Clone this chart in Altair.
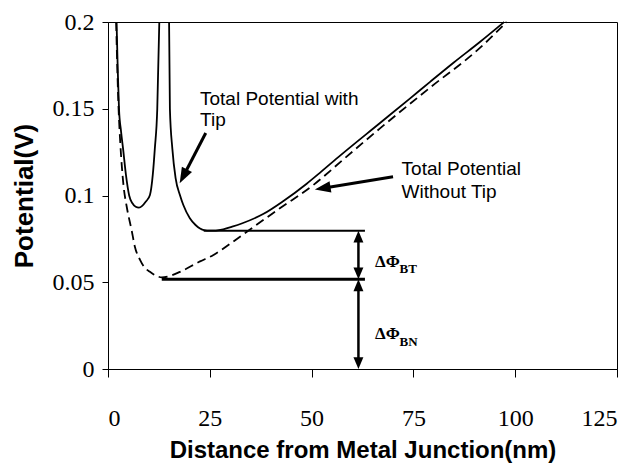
import math
import altair as alt
import pandas as pd

# ---------------- data ----------------
solid_left_x = [2.1, 2.4, 2.7, 3.2, 3.7, 4.4, 5.2, 6.0, 6.8, 7.6, 8.4, 9.3, 10.3, 11.0, 11.5, 12.1, 12.6]
solid_left_y = [0.200, 0.172, 0.150, 0.137, 0.127, 0.112, 0.100, 0.0955, 0.0935, 0.0930, 0.0940, 0.0965, 0.1003, 0.112, 0.127, 0.150, 0.200]

solid_right_x = [15.0, 15.2, 15.8, 16.6, 17.7, 18.5, 20.1, 21.5, 22.6, 23.6, 25.0, 26.5, 28.3, 30.5, 33.0,
                 38.1, 43.0, 48.8, 52.1, 57.0, 66.8, 74.2, 79.1, 85.0, 91.4, 97.3]
solid_right_y = [0.200, 0.150, 0.127, 0.110, 0.100, 0.0945, 0.0869, 0.0830, 0.0810, 0.0800, 0.0797, 0.0798, 0.0805,
                 0.0820, 0.0840, 0.0893, 0.0967, 0.1068, 0.1132, 0.1230, 0.1418, 0.1560, 0.1655, 0.1768, 0.1886, 0.2000]

dashed_x = [2.0, 2.3, 2.6, 3.0, 3.8, 4.6, 5.8, 6.6, 7.9, 9.0, 10.3, 11.8, 13.2, 15.0, 17.7, 22.6, 25.9, 30.0,
            34.1, 42.2, 50.4, 58.0, 66.8, 79.1, 91.4, 97.9]
dashed_y = [0.200, 0.172, 0.150, 0.131, 0.106, 0.0935, 0.080, 0.0705, 0.0628, 0.0585, 0.056, 0.0538, 0.0528,
            0.0535, 0.0560, 0.0620, 0.0657, 0.0722, 0.0791, 0.0926, 0.1060, 0.1212, 0.1387, 0.1622, 0.1852, 0.2000]

# barrier levels (horizontal lines): y, x start, x end, width
level_y = [0.0797, 0.0517]
level_x1 = [23.5, 13.2]
level_x2 = [63.1, 63.1]
level_w = [2.0, 3.0]

# vertical double arrows at x = 61.5
varrow_x = 61.5
varrow_top = [0.0797, 0.0517]
varrow_bottom = [0.0517, 0.0]

# annotation arrows: start (x, y) -> tip (x, y)
ann_x1 = [24.0, 70.0]
ann_y1 = [0.136, 0.1108]
ann_x2 = [17.6, 50.8]
ann_y2 = [0.107, 0.1035]

# annotation texts
ann_text = ["Total Potential with", "Tip", "Total Potential", "Without Tip"]
ann_tx = [22.6, 22.6, 72.1, 72.1]
ann_ty = [0.1522, 0.140, 0.1118, 0.0986]

delta_text = ["ΔΦ", "ΔΦ"]
delta_x = [65.6, 65.6]
delta_y = [0.0590, 0.0171]
sub_text = ["BT", "BN"]
sub_x = [71.6, 71.6]
sub_y = [0.0553, 0.0135]

x_ticks = [0, 25, 50, 75, 100, 125]
y_ticks = [0, 0.05, 0.1, 0.15, 0.2]

# ---------------- layout ----------------
W, H = 509, 347
XMAX, YMAX = 125.0, 0.2


def px(x):
    return x / XMAX * W


def py(y):
    return (YMAX - y) / YMAX * H


def ang(x1, y1, x2, y2):
    dx = px(x2) - px(x1)
    dy = py(y2) - py(y1)
    return (math.degrees(math.atan2(dx, -dy)) + 360) % 360


xs = alt.Scale(domain=[0, XMAX], nice=False, zero=False)
ys = alt.Scale(domain=[0, YMAX], nice=False, zero=False)

x_axis = alt.Axis(values=x_ticks, title="Distance from Metal Junction(nm)", tickSize=8,
                  labelPadding=29, titlePadding=8, format="~f", titleFontSize=24)
y_axis = alt.Axis(values=y_ticks, title="Potential(V)", tickSize=6, labelPadding=8,
                  titlePadding=15, format="~f", titleFontSize=26)


def X(field):
    return alt.X(field, type="quantitative", scale=xs, axis=x_axis)


def Y(field):
    return alt.Y(field, type="quantitative", scale=ys, axis=y_axis)


# curves
seg = ["a"] * len(solid_left_x) + ["b"] * len(solid_right_x)
solid_df = pd.DataFrame({"x": solid_left_x + solid_right_x, "y": solid_left_y + solid_right_y, "seg": seg})
dashed_df = pd.DataFrame({"x": dashed_x, "y": dashed_y})

solid = alt.Chart(solid_df).mark_line(color="black", strokeWidth=1.8, interpolate="monotone").encode(
    x=X("x"), y=Y("y"), detail="seg:N")
dashed = alt.Chart(dashed_df).mark_line(color="black", strokeWidth=1.8, strokeDash=[9, 5],
                                        interpolate="monotone").encode(x=X("x"), y=Y("y"))

# horizontal level lines
lev_df = pd.DataFrame({"y": level_y, "x1": level_x1, "x2": level_x2, "w": level_w})
levels = alt.Chart(lev_df).mark_rule(color="black").encode(
    x=X("x1"), x2="x2", y=Y("y"), strokeWidth=alt.StrokeWidth("w:Q", scale=None))

# vertical double arrows: shafts
vs_df = pd.DataFrame({"x": [varrow_x] * 2, "y1": [t - 0.004 for t in varrow_top],
                      "y2": [b + 0.004 for b in varrow_bottom]})
vshafts = alt.Chart(vs_df).mark_rule(color="black", strokeWidth=2.5).encode(x=X("x"), y=Y("y1"), y2="y2")

# vertical arrowheads (tip at the point)
vh_x = [varrow_x] * 4
vh_y = [varrow_top[0], varrow_bottom[0], varrow_top[1], varrow_bottom[1]]
vh_a = [0, 180, 0, 180]
vh_df = pd.DataFrame({"x": vh_x, "y": vh_y, "a": vh_a})
vheads = alt.Chart(vh_df).mark_point(shape="M0,0 L-0.42,1 L0.42,1 Z", filled=True, color="black",
                                     opacity=1, size=560).encode(
    x=X("x"), y=Y("y"), angle=alt.Angle("a:Q", scale=None))

# annotation arrows
a_ang = [ang(ann_x1[i], ann_y1[i], ann_x2[i], ann_y2[i]) for i in range(2)]
sx2, sy2 = [], []
for i in range(2):
    dxp = px(ann_x2[i]) - px(ann_x1[i])
    dyp = py(ann_y2[i]) - py(ann_y1[i])
    L = math.hypot(dxp, dyp)
    f = (L - 8) / L
    sx2.append(ann_x1[i] + (ann_x2[i] - ann_x1[i]) * f)
    sy2.append(ann_y1[i] + (ann_y2[i] - ann_y1[i]) * f)
ash_df = pd.DataFrame({"x1": ann_x1, "y1": ann_y1, "x2": sx2, "y2": sy2})
ashafts = alt.Chart(ash_df).mark_rule(color="black", strokeWidth=3).encode(
    x=X("x1"), y=Y("y1"), x2="x2", y2="y2")
ah_df = pd.DataFrame({"x": ann_x2, "y": ann_y2, "a": a_ang})
aheads = alt.Chart(ah_df).mark_point(shape="M0,0 L-0.36,1 L0.36,1 Z", filled=True, color="black",
                                     opacity=1, size=1000).encode(
    x=X("x"), y=Y("y"), angle=alt.Angle("a:Q", scale=None))

# texts
t_df = pd.DataFrame({"x": ann_tx, "y": ann_ty, "t": ann_text})
texts = alt.Chart(t_df).mark_text(align="left", baseline="alphabetic", font="Liberation Sans",
                                  fontSize=19, color="black").encode(x=X("x"), y=Y("y"), text="t:N")
d_df = pd.DataFrame({"x": delta_x, "y": delta_y, "t": delta_text})
dtexts = alt.Chart(d_df).mark_text(align="left", baseline="alphabetic", font="Liberation Serif",
                                   fontSize=17, fontWeight="bold", color="black").encode(
    x=X("x"), y=Y("y"), text="t:N")
s_df = pd.DataFrame({"x": sub_x, "y": sub_y, "t": sub_text})
stexts = alt.Chart(s_df).mark_text(align="left", baseline="alphabetic", font="Liberation Serif",
                                   fontSize=13, fontWeight="bold", color="black").encode(
    x=X("x"), y=Y("y"), text="t:N")

chart = alt.layer(solid, dashed, levels, vshafts, vheads, ashafts, aheads, texts, dtexts, stexts).properties(
    width=W, height=H,
    background="white",
    autosize=alt.AutoSizeParams(type="none"),
    padding={"left": 100, "top": 14, "right": 12, "bottom": 94},
).configure_view(stroke="black", strokeWidth=1).configure_axis(
    grid=False,
    domainColor="black", domainWidth=1,
    tickColor="black", tickWidth=1,
    labelFont="Liberation Serif", labelFontSize=24, labelColor="black",
    titleFont="Liberation Sans", titleFontWeight="bold", titleColor="black",
)

chart.save("out.html", embed_options={"renderer": "svg", "actions": False})
